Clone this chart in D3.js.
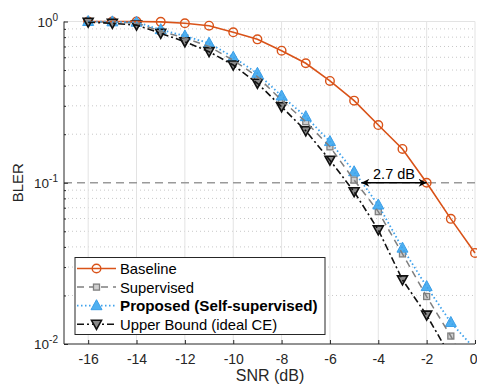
<!DOCTYPE html>
<html><head><meta charset="utf-8">
<script src="https://cdn.jsdelivr.net/npm/d3@7/dist/d3.min.js"></script>
<style>body{margin:0;background:#fff;} svg{display:block;font-family:"Liberation Sans",Arial,sans-serif;}</style>
</head><body><svg id="c" width="477" height="385"></svg>
<script>
const snr = [-16,-15,-14,-13,-12,-11,-10,-9,-8,-7,-6,-5,-4,-3,-2,-1,0];
const baseline   = [1.0,1.0,1.0,0.995,0.975,0.942,0.857,0.775,0.659,0.551,0.428,0.323,0.228,0.162,0.100,0.0597,0.0367];
const supervised = [0.995,0.99,0.98,0.87,0.79,0.70,0.575,0.455,0.325,0.239,0.167,0.104,0.0662,0.0362,0.0197,0.0112,0.0060];
const proposed   = [1.0,0.995,0.99,0.89,0.813,0.733,0.600,0.477,0.345,0.257,0.180,0.117,0.0728,0.0393,0.0227,0.0136,0.0093];
const upper      = [0.99,0.975,0.95,0.845,0.749,0.650,0.537,0.414,0.296,0.210,0.138,0.088,0.051,0.0250,0.0151,0.0083,0.0040];
const xTicks = [-16,-14,-12,-10,-8,-6,-4,-2,0];
const yTicks = [1, 0.1, 0.01];
const yExp = ["0","-1","-2"];
const legendLabels = ["Baseline","Supervised","Proposed (Self-supervised)","Upper Bound (ideal CE)"];
const refBler = 0.1;
const gapStart = -4.7, gapEnd = -2, gapLabel = "2.7 dB";

const L=64, R=475, T=21.5, B=344;
const svg = d3.select("#c");
const x = d3.scaleLinear().domain([-17,0]).range([L,R]);
const y = d3.scaleLog().domain([0.01,1]).range([B,T]);
const ink = "#262626";

// grid
const minor = [];
for (const d of [0.01,0.1]) for (let k=2;k<=9;k++) minor.push(d*k);
svg.append("g").selectAll("line").data(minor).join("line")
  .attr("x1",L).attr("x2",R).attr("y1",d=>y(d)).attr("y2",d=>y(d))
  .attr("stroke","#c8c8c8").attr("stroke-width",1).attr("stroke-dasharray","1,3");
svg.append("g").selectAll("line").data(xTicks.slice(0,-1)).join("line")
  .attr("x1",d=>x(d)).attr("x2",d=>x(d)).attr("y1",T).attr("y2",B)
  .attr("stroke","#e3e3e3").attr("stroke-width",1);
svg.append("line").attr("x1",L).attr("x2",R).attr("y1",y(1)).attr("y2",y(1)).attr("stroke","#e3e3e3");
svg.append("line").attr("x1",R).attr("x2",R).attr("y1",T).attr("y2",B).attr("stroke","#e3e3e3");

// reference dashed line
svg.append("line").attr("x1",L).attr("x2",R).attr("y1",y(refBler)).attr("y2",y(refBler))
  .attr("stroke","#9a9a9a").attr("stroke-width",1.5).attr("stroke-dasharray","8,5");

// axes
const xAxis = d3.axisBottom(x).tickValues(xTicks).tickSize(-4).tickPadding(10).tickFormat(d=>d);
const gx = svg.append("g").attr("transform",`translate(0,${B})`).call(xAxis);
gx.select(".domain").attr("stroke",ink).attr("d",`M${L},0H${R}`);
gx.selectAll(".tick line").attr("stroke",ink);
gx.selectAll("text").attr("fill",ink).attr("font-size",14).text(d=> d<0 ? "-"+Math.abs(d) : d);
gx.selectAll(".tick").filter(d=>d===0).select("text").attr("text-anchor","end").attr("dx",2);

const yAxis = d3.axisLeft(y).tickValues(minor.concat(yTicks)).tickSize(-3).tickFormat("");
const gy = svg.append("g").attr("transform",`translate(${L},0)`).call(yAxis);
gy.select(".domain").attr("stroke",ink).attr("d",`M0,${T}V${B}`);
gy.selectAll(".tick line").attr("stroke",ink).attr("x2",d=>yTicks.includes(d)?4:2);
yTicks.forEach((v,i)=>{
  const t = svg.append("text").attr("x",L-6).attr("y",y(v)+5).attr("text-anchor","end").attr("fill",ink).attr("font-size",13.5);
  t.append("tspan").text("10");
  t.append("tspan").attr("dy",-6).attr("font-size",10).text(yExp[i]);
});
svg.append("text").attr("transform",`translate(23,${(T+B)/2}) rotate(-90)`).attr("text-anchor","middle")
  .attr("fill",ink).attr("font-size",15).text("BLER");
svg.append("text").attr("x",270).attr("y",381).attr("text-anchor","middle")
  .attr("fill",ink).attr("font-size",16).text("SNR (dB)");

// series
const clip = svg.append("clipPath").attr("id","clip").append("rect").attr("x",L-8).attr("y",T-8).attr("width",R-L+16).attr("height",B-T+8);
const plot = svg.append("g").attr("clip-path","url(#clip)");
const lineClip = svg.append("clipPath").attr("id","lc").append("rect").attr("x",L).attr("y",T-2).attr("width",R-L+2).attr("height",B-T+2);
const series = [
  {name:legendLabels[0], v:baseline, color:"#D95319", dash:null, w:1.6, marker:"circle"},
  {name:legendLabels[1], v:supervised, color:"#7f7f7f", dash:"7,5", w:1.5, marker:"square"},
  {name:legendLabels[2], v:proposed, color:"#3fa2ec", dash:"1.5,2.5", w:1.8, marker:"up"},
  {name:legendLabels[3], v:upper, color:"#111", dash:"7,3,2,3", w:1.6, marker:"down"},
];
function marker(g, s, cx, cy){
  if (s.marker==="circle") g.append("circle").attr("cx",cx).attr("cy",cy).attr("r",4.3).attr("fill","none").attr("stroke",s.color).attr("stroke-width",1.4);
  else if (s.marker==="square") g.append("rect").attr("x",cx-3).attr("y",cy-3).attr("width",6).attr("height",6).attr("fill","#cfcfcf").attr("stroke",s.color).attr("stroke-width",1.3);
  else if (s.marker==="up") g.append("path").attr("d",`M${cx},${cy-6}L${cx+5.5},${cy+4}L${cx-5.5},${cy+4}Z`).attr("fill","#4fb0f0").attr("stroke","#3a9ee8").attr("stroke-width",1);
  else g.append("path").attr("d",`M${cx},${cy+5}L${cx+5},${cy-4}L${cx-5},${cy-4}Z`).attr("fill","#8a8a8a").attr("stroke",s.color).attr("stroke-width",1.6);
}
const line = d3.line().x((d,i)=>x(snr[i])).y(d=>y(d));
series.forEach(s=>{
  const g = svg.append("g").attr("clip-path","url(#lc)");
  g.append("path").attr("d",line(s.v)).attr("fill","none").attr("stroke",s.color).attr("stroke-width",s.w)
    .attr("stroke-dasharray",s.dash);
  const mg = plot.append("g");
  s.v.forEach((v,i)=>{ if (v>=0.01) marker(mg,s,x(snr[i]),y(v)); });
});

// annotation arrow
const defs = svg.append("defs");
defs.append("marker").attr("id","ah").attr("viewBox","0 0 10 10").attr("refX",10).attr("refY",5)
  .attr("markerWidth",13).attr("markerHeight",8).attr("markerUnits","userSpaceOnUse").attr("orient","auto-start-reverse")
  .append("path").attr("d","M0,0L10,5L0,10L3,5Z").attr("fill","#000");
svg.append("line").attr("x1",x(gapStart)).attr("x2",x(gapEnd)).attr("y1",y(refBler)).attr("y2",y(refBler))
  .attr("stroke","#000").attr("stroke-width",1.4).attr("marker-start","url(#ah)").attr("marker-end","url(#ah)");
svg.append("text").attr("x",(x(gapStart)+x(gapEnd))/2).attr("y",y(refBler)-4).attr("text-anchor","middle")
  .attr("font-size",14.5).attr("fill","#000").text(gapLabel);

// legend
const lg = svg.append("g");
lg.append("rect").attr("x",75).attr("y",257.5).attr("width",250).attr("height",77).attr("fill","#fff").attr("stroke",ink).attr("stroke-width",1);
series.forEach((s,i)=>{
  const yy = 268.5 + i*18.6;
  lg.append("line").attr("x1",77).attr("x2",116).attr("y1",yy).attr("y2",yy).attr("stroke",s.color).attr("stroke-width",s.w).attr("stroke-dasharray",s.dash);
  marker(lg,s,96.5,yy);
  lg.append("text").attr("x",120).attr("y",yy+5.5).attr("font-size",i===2?15.2:14.8).attr("fill","#000")
    .attr("font-weight", i===2?"bold":"normal").text(s.name);
});
</script></body></html>
